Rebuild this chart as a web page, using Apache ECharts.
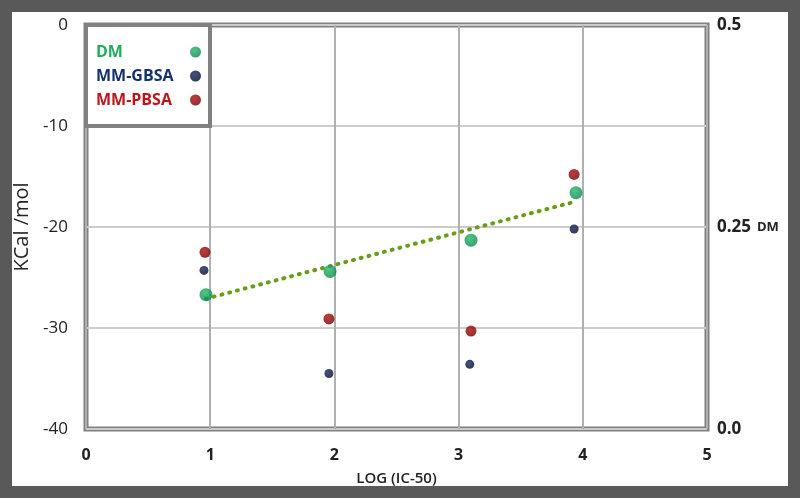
<!DOCTYPE html>
<html>
<head>
<meta charset="utf-8">
<script src="https://cdn.jsdelivr.net/npm/echarts@6/dist/echarts.min.js"></script>
<style>
  html, body { margin: 0; padding: 0; background: #fff; }
  #chart { width: 800px; height: 498px; }
</style>
</head>
<body>
<div id="chart"></div>
<script>
  // values: [LOG(IC-50), KCal/mol]
  const dmPoints = [[0.966, -26.7], [1.965, -24.4], [3.10, -21.3], [3.945, -16.6]];
  const gbsaPoints = [[0.95, -24.3], [1.956, -34.5], [3.09, -33.6], [3.93, -20.2]];
  const pbsaPoints = [[0.958, -22.5], [1.956, -29.1], [3.10, -30.3], [3.93, -14.8]];
  // dotted trend line ends for DM
  const dmTrend = [[0.966, -27.1], [3.905, -17.6]];
  const legendNames = ['DM', 'MM-GBSA', 'MM-PBSA'];

  const font = "'Open Sans', 'DejaVu Sans', sans-serif";

  const myChart = echarts.init(document.getElementById('chart'));
  const option = {
    animation: false,
    backgroundColor: '#fff',
    grid: {
      show: true,
      left: 86,
      right: 93,
      top: 25,
      bottom: 69,
      borderColor: '#808080',
      borderWidth: 5,
      backgroundColor: 'transparent',
    },
    graphic: [
      {
        type: 'rect',
        z: 100,
        silent: true,
        shape: { x: 6, y: 6, width: 788, height: 486 },
        style: { fill: 'none', stroke: '#595959', lineWidth: 12 },
      },
      {
        type: 'rect',
        z: 3,
        silent: true,
        shape: { x: 86, y: 25, width: 124, height: 101 },
        style: { fill: '#fff', stroke: '#808080', lineWidth: 4 },
      },
    ],
    legend: {
      data: [
        { name: legendNames[0], textStyle: { color: '#1fae5b' } },
        { name: legendNames[1], textStyle: { color: '#14306e' } },
        { name: legendNames[2], textStyle: { color: '#c0141a' } },
      ],
      orient: 'vertical',
      left: 91,
      top: 39,
      z: 10,
      align: 'right',
      icon: 'circle',
      itemWidth: 11,
      itemHeight: 11,
      itemGap: 8,
      formatter: '{n|{name}}',
      textStyle: {
        fontFamily: font,
        fontWeight: 'bold',
        fontSize: 16,
        rich: {
          n: { width: 89, align: 'left', fontFamily: font, fontWeight: 'bold', fontSize: 16 },
        },
      },
    },
    xAxis: {
      type: 'value',
      min: 0,
      max: 5,
      interval: 1,
      name: 'LOG (IC-50)',
      nameLocation: 'middle',
      nameGap: 42,
      nameTextStyle: { color: '#222', fontFamily: font, fontWeight: 600, fontSize: 15 },
      axisLine: { show: false },
      axisTick: { show: false },
      axisLabel: { color: '#222', fontFamily: font, fontWeight: 'bold', fontSize: 16, margin: 18 },
      splitLine: { show: true, lineStyle: { color: '#b0b0b0', width: 2 } },
    },
    yAxis: [
      {
        type: 'value',
        min: -40,
        max: 0,
        interval: 10,
        name: 'KCal /mol',
        nameLocation: 'middle',
        nameGap: 48,
        nameTextStyle: { color: '#222', fontFamily: font, fontSize: 20 },
        axisLine: { show: false },
        axisTick: { show: false },
        axisLabel: { color: '#222', fontFamily: font, fontSize: 17, margin: 18 },
        splitLine: { show: true, lineStyle: { color: '#cccccc', width: 2 } },
      },
      {
        type: 'value',
        min: 0,
        max: 0.5,
        interval: 0.25,
        position: 'right',
        name: 'DM',
        nameLocation: 'middle',
        nameRotate: 0,
        nameGap: 50,
        nameTextStyle: { color: '#222', fontFamily: font, fontWeight: 'bold', fontSize: 13, align: 'left' },
        axisLine: { show: false },
        axisTick: { show: false },
        axisLabel: {
          color: '#222', fontFamily: font, fontWeight: 'bold', fontSize: 17, margin: 10,
          formatter: function (v) { return v === 0 ? '0.0' : String(v); },
        },
        splitLine: { show: false },
      },
    ],
    series: [
      {
        name: 'DM trend',
        type: 'line',
        data: dmTrend,
        showSymbol: false,
        z: 2,
        lineStyle: { color: '#6a9c1a', width: 4, type: [1, 7], cap: 'round' },
      },
      {
        name: 'MM-PBSA',
        type: 'scatter',
        data: pbsaPoints,
        symbolSize: 11,
        z: 3,
        itemStyle: {
          color: new echarts.graphic.RadialGradient(0.4, 0.35, 0.7, [
            { offset: 0, color: '#b80808' },
            { offset: 1, color: '#680000' },
          ]),
        },
      },
      {
        name: 'MM-GBSA',
        type: 'scatter',
        data: gbsaPoints,
        symbolSize: 9,
        z: 3,
        itemStyle: {
          color: new echarts.graphic.RadialGradient(0.4, 0.35, 0.7, [
            { offset: 0, color: '#14225c' },
            { offset: 1, color: '#010828' },
          ]),
        },
      },
      {
        name: 'DM',
        type: 'scatter',
        data: dmPoints,
        symbolSize: 13,
        z: 4,
        itemStyle: {
          color: new echarts.graphic.RadialGradient(0.4, 0.35, 0.7, [
            { offset: 0, color: '#22b868' },
            { offset: 1, color: '#08854a' },
          ]),
        },
      },
    ],
  };
  myChart.setOption(option);
</script>
</body>
</html>
